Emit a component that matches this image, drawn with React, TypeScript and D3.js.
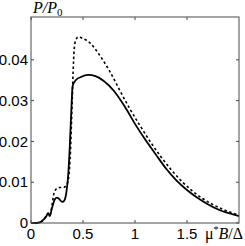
import React from 'react';
import * as d3 from 'd3';

// solid curve
const solidX = [0, 0.05, 0.09, 0.12, 0.15, 0.165, 0.18, 0.2, 0.23, 0.25, 0.27, 0.3, 0.32, 0.34, 0.36, 0.375, 0.39, 0.4, 0.43, 0.48, 0.55, 0.62, 0.7, 0.8, 0.9, 1.0, 1.1, 1.2, 1.3, 1.4, 1.5, 1.6, 1.7, 1.8, 1.9, 2.0];
const solidY = [0, 0, 0.0002, 0.0008, 0.0018, 0.0024, 0.0017, 0.0035, 0.0058, 0.0062, 0.0059, 0.0052, 0.0055, 0.0075, 0.0125, 0.02, 0.029, 0.0335, 0.035, 0.0358, 0.0363, 0.036, 0.0348, 0.0323, 0.0286, 0.0243, 0.0204, 0.0168, 0.0133, 0.0104, 0.0081, 0.0062, 0.0046, 0.0033, 0.0024, 0.0017];

// dashed curve
const dashX = [0, 0.05, 0.09, 0.12, 0.15, 0.165, 0.18, 0.2, 0.22, 0.25, 0.28, 0.31, 0.34, 0.36, 0.38, 0.395, 0.405, 0.415, 0.43, 0.455, 0.5, 0.57, 0.65, 0.75, 0.85, 0.95, 1.05, 1.15, 1.25, 1.35, 1.45, 1.55, 1.65, 1.75, 1.85, 2.0];
const dashY = [0, 0, 0.0002, 0.0008, 0.0018, 0.0024, 0.0018, 0.004, 0.0072, 0.0085, 0.0087, 0.0087, 0.0093, 0.0108, 0.018, 0.029, 0.037, 0.0425, 0.0448, 0.0456, 0.0452, 0.0441, 0.0415, 0.0375, 0.0327, 0.028, 0.0238, 0.0198, 0.0162, 0.013, 0.0102, 0.0079, 0.006, 0.0045, 0.0033, 0.0019];

const xTicks = [0, 0.5, 1, 1.5];
const xTickLabels = ['0', '0.5', '1', '1.5'];
const yTicks = [0, 0.01, 0.02, 0.03, 0.04];
const yTickLabels = ['0', '0.01', '0.02', '0.03', '0.04'];

const width = 245;
const height = 246;
const margin = { top: 17, right: 6, bottom: 23, left: 31 };

export default function App() {
    const x = d3.scaleLinear().domain([0, 2]).range([margin.left, width - margin.right]);
    const y = d3.scaleLinear().domain([0, 0.0505]).range([height - margin.bottom, margin.top]);

    const line = d3.line<[number, number]>()
        .x((d) => x(d[0]))
        .y((d) => y(d[1]))
        .curve(d3.curveMonotoneX);

    const solid = solidX.map((v, i) => [v, solidY[i]] as [number, number]);
    const dashed = dashX.map((v, i) => [v, dashY[i]] as [number, number]);

    const x0 = x.range()[0], x1 = x.range()[1];
    const y0 = y.range()[0], y1 = y.range()[1];
    const tl = 3;
    const axisColor = '#4a4a4a';
    const tickFont = '"Liberation Sans", Arial, sans-serif';
    const serif = '"Liberation Serif", "Times New Roman", serif';

    return (
        <svg width={width} height={height} style={{ position: 'absolute', left: 0, top: 0, background: '#fff' }}>
            <path d={line(dashed) ?? ''} fill="none" stroke="#000" strokeWidth={1.6} strokeDasharray="2.5,2.5" />
            <path d={line(solid) ?? ''} fill="none" stroke="#000" strokeWidth={1.8} />

            {/* box */}
            <rect x={x0} y={y1} width={x1 - x0} height={y0 - y1} fill="none" stroke={axisColor} strokeWidth={1} />

            {/* x ticks */}
            {xTicks.map((t, i) => (
                <g key={'x' + i}>
                    <line x1={x(t)} x2={x(t)} y1={y0} y2={y0 - tl} stroke={axisColor} />
                    <line x1={x(t)} x2={x(t)} y1={y1} y2={y1 + tl} stroke={axisColor} />
                    <text x={x(t)} y={y0 + 16} textAnchor="middle" fontFamily={tickFont} fontSize={15} fill="#000">
                        {xTickLabels[i]}
                    </text>
                </g>
            ))}

            {/* y ticks */}
            {yTicks.map((t, i) => (
                <g key={'y' + i}>
                    <line x1={x0} x2={x0 + tl} y1={y(t)} y2={y(t)} stroke={axisColor} />
                    <line x1={x1} x2={x1 - tl} y1={y(t)} y2={y(t)} stroke={axisColor} />
                    <text x={x0 - 3} y={y(t)} dy="0.35em" textAnchor="end" fontFamily={tickFont} fontSize={15} fill="#000">
                        {yTickLabels[i]}
                    </text>
                </g>
            ))}

            {/* axis labels */}
            <text x={x0 + 2} y={13} fontFamily={serif} fontSize={16} fontStyle="italic" fill="#000">
                P/P<tspan fontSize={11} dy={3} fontStyle="normal">0</tspan>
            </text>
            <text x={243} y={y0 + 16} textAnchor="end" fontFamily={serif} fontSize={16} fill="#000">
                μ<tspan fontSize={10} dy={-6}>*</tspan><tspan dy={6} fontStyle="italic">B</tspan>/Δ
            </text>
        </svg>
    );
}
